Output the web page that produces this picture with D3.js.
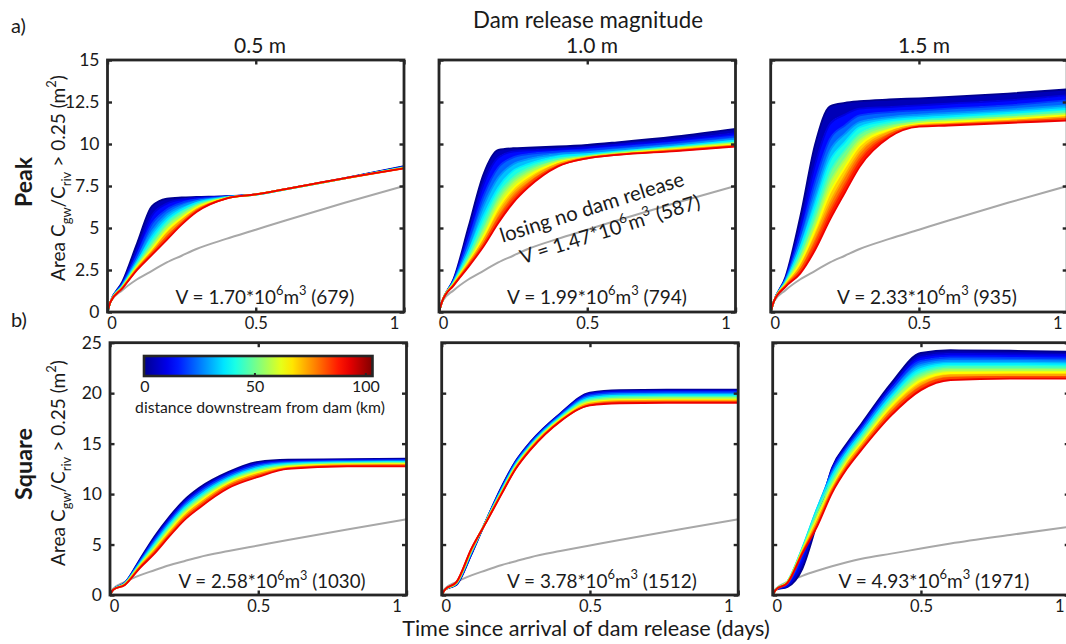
<!DOCTYPE html>
<html><head><meta charset="utf-8">
<script src="https://cdn.jsdelivr.net/npm/d3@7"></script>
<style>
body{margin:0;background:#fff}
svg{display:block}
text{font-family:Lato,'Open Sans',sans-serif;fill:#1a1a1a}
</style>
</head><body>
<svg id="chart" width="1066" height="644"></svg>
<script>
// ---------------- DATA ----------------
const times = [0, 0.01, 0.05, 0.1, 0.15, 0.2, 0.25, 0.3, 0.4, 0.5, 0.6, 0.8, 1.0];
const distances = [0, 10, 20, 30, 40, 50, 60, 70, 80, 90, 100]; // km downstream

const peak05 = [
  [0, 0.6, 1.8, 4.1, 6.3, 6.75, 6.82, 6.85, 6.9, 7.0, 7.32, 7.97, 8.68],
  [0, 0.6, 1.72, 3.7, 5.75, 6.45, 6.7, 6.8, 6.88, 7.0, 7.31, 7.96, 8.66],
  [0, 0.6, 1.66, 3.4, 5.25, 6.1, 6.5, 6.7, 6.86, 7.0, 7.3, 7.95, 8.64],
  [0, 0.6, 1.6, 3.15, 4.8, 5.8, 6.3, 6.6, 6.84, 6.99, 7.3, 7.95, 8.62],
  [0, 0.6, 1.56, 2.98, 4.45, 5.5, 6.1, 6.5, 6.82, 6.99, 7.3, 7.95, 8.6],
  [0, 0.6, 1.52, 2.86, 4.15, 5.28, 5.95, 6.4, 6.8, 6.99, 7.3, 7.95, 8.6],
  [0, 0.6, 1.49, 2.76, 3.92, 5.05, 5.75, 6.3, 6.78, 6.99, 7.3, 7.95, 8.58],
  [0, 0.6, 1.46, 2.68, 3.75, 4.85, 5.6, 6.2, 6.77, 7.0, 7.31, 7.96, 8.57],
  [0, 0.6, 1.44, 2.6, 3.6, 4.65, 5.45, 6.1, 6.76, 7.0, 7.31, 7.96, 8.56],
  [0, 0.6, 1.42, 2.55, 3.5, 4.45, 5.3, 6.02, 6.75, 7.0, 7.31, 7.96, 8.55],
  [0, 0.6, 1.4, 2.5, 3.4, 4.3, 5.2, 5.95, 6.75, 7.0, 7.32, 7.97, 8.55]
];
const peak10 = [
  [0, 0.6, 2.0, 5.1, 8.2, 9.65, 9.75, 9.78, 9.85, 9.95, 10.1, 10.45, 10.9],
  [0, 0.6, 1.95, 4.7, 7.6, 9.2, 9.55, 9.62, 9.7, 9.8, 9.95, 10.25, 10.65],
  [0, 0.6, 1.9, 4.3, 6.9, 8.6, 9.2, 9.4, 9.55, 9.65, 9.8, 10.1, 10.45],
  [0, 0.6, 1.85, 3.9, 6.3, 8.0, 8.8, 9.1, 9.4, 9.5, 9.65, 9.95, 10.3],
  [0, 0.6, 1.8, 3.6, 5.7, 7.4, 8.4, 8.8, 9.25, 9.4, 9.55, 9.85, 10.2],
  [0, 0.6, 1.75, 3.35, 5.2, 7.0, 8.0, 8.55, 9.1, 9.3, 9.5, 9.8, 10.1],
  [0, 0.6, 1.7, 3.15, 4.8, 6.6, 7.7, 8.3, 9.0, 9.25, 9.45, 9.75, 10.05],
  [0, 0.6, 1.7, 3.0, 4.5, 6.2, 7.35, 8.05, 8.9, 9.2, 9.4, 9.7, 9.98],
  [0, 0.6, 1.65, 2.9, 4.25, 5.85, 7.05, 7.8, 8.8, 9.2, 9.38, 9.65, 9.92],
  [0, 0.6, 1.6, 2.8, 4.05, 5.55, 6.75, 7.6, 8.7, 9.15, 9.36, 9.6, 9.88],
  [0, 0.6, 1.6, 2.7, 3.9, 5.3, 6.5, 7.4, 8.65, 9.15, 9.35, 9.58, 9.85]
];
const peak15 = [
  [0, 0.6, 2.1, 5.7, 10.0, 12.25, 12.45, 12.55, 12.65, 12.72, 12.8, 13.0, 13.25],
  [0, 0.6, 2.0, 5.1, 8.8, 11.2, 11.75, 12.1, 12.2, 12.3, 12.4, 12.6, 12.9],
  [0, 0.6, 1.95, 4.6, 7.8, 10.3, 11.1, 11.7, 11.9, 12.0, 12.1, 12.3, 12.6],
  [0, 0.6, 1.9, 4.2, 7.0, 9.6, 10.6, 11.3, 11.6, 11.75, 11.85, 12.05, 12.3],
  [0, 0.6, 1.8, 3.85, 6.4, 9.0, 10.1, 11.0, 11.4, 11.55, 11.65, 11.85, 12.1],
  [0, 0.6, 1.75, 3.5, 5.8, 8.3, 9.6, 10.6, 11.2, 11.4, 11.5, 11.7, 11.95],
  [0, 0.6, 1.7, 3.2, 5.3, 7.7, 9.1, 10.25, 11.0, 11.3, 11.4, 11.58, 11.8],
  [0, 0.6, 1.65, 2.95, 4.9, 7.1, 8.6, 9.9, 10.85, 11.2, 11.3, 11.48, 11.7],
  [0, 0.6, 1.6, 2.7, 4.5, 6.5, 8.1, 9.5, 10.7, 11.12, 11.2, 11.38, 11.6],
  [0, 0.6, 1.55, 2.5, 4.1, 6.0, 7.6, 9.1, 10.55, 11.07, 11.15, 11.32, 11.5],
  [0, 0.6, 1.5, 2.3, 3.7, 5.5, 7.1, 8.65, 10.4, 11.03, 11.1, 11.25, 11.4]
];
const square05 = [
  [0, 0.5, 1.2, 3.5, 5.8, 7.75, 9.4, 10.6, 12.2, 13.2, 13.4, 13.45, 13.5],
  [0, 0.5, 1.2, 3.4, 5.6, 7.55, 9.2, 10.4, 12.05, 13.05, 13.3, 13.38, 13.42],
  [0, 0.5, 1.2, 3.3, 5.45, 7.35, 9.0, 10.2, 11.9, 12.9, 13.2, 13.3, 13.35],
  [0, 0.5, 1.15, 3.2, 5.25, 7.15, 8.8, 10.0, 11.7, 12.75, 13.1, 13.22, 13.27],
  [0, 0.5, 1.15, 3.1, 5.05, 6.95, 8.6, 9.8, 11.55, 12.6, 13.0, 13.15, 13.2],
  [0, 0.5, 1.1, 3.0, 4.9, 6.75, 8.4, 9.6, 11.4, 12.45, 12.9, 13.08, 13.12],
  [0, 0.5, 1.1, 2.95, 4.7, 6.55, 8.2, 9.4, 11.25, 12.3, 12.8, 13.0, 13.05],
  [0, 0.5, 1.05, 2.85, 4.55, 6.35, 8.0, 9.2, 11.1, 12.15, 12.7, 12.93, 12.97],
  [0, 0.5, 1.05, 2.8, 4.4, 6.15, 7.8, 9.0, 10.95, 12.0, 12.6, 12.86, 12.9],
  [0, 0.5, 1.0, 2.7, 4.25, 5.95, 7.6, 8.8, 10.8, 11.85, 12.55, 12.8, 12.82],
  [0, 0.5, 1.0, 2.65, 4.1, 5.8, 7.4, 8.6, 10.6, 11.7, 12.5, 12.75, 12.75]
];
const square10 = [
  [0, 0.5, 1.0, 4.0, 7.4, 10.6, 13.3, 15.2, 18.0, 20.05, 20.3, 20.35, 20.35],
  [0, 0.5, 1.05, 4.05, 7.4, 10.55, 13.25, 15.15, 17.95, 19.95, 20.2, 20.25, 20.25],
  [0, 0.5, 1.1, 4.15, 7.4, 10.45, 13.15, 15.05, 17.85, 19.8, 20.05, 20.1, 20.1],
  [0, 0.5, 1.12, 4.2, 7.38, 10.35, 13.05, 14.95, 17.75, 19.65, 19.9, 19.95, 19.95],
  [0, 0.5, 1.15, 4.3, 7.35, 10.3, 12.95, 14.85, 17.65, 19.5, 19.75, 19.8, 19.8],
  [0, 0.5, 1.18, 4.35, 7.33, 10.2, 12.85, 14.75, 17.55, 19.35, 19.6, 19.65, 19.65],
  [0, 0.5, 1.2, 4.4, 7.3, 10.1, 12.75, 14.7, 17.45, 19.2, 19.45, 19.5, 19.5],
  [0, 0.5, 1.22, 4.45, 7.28, 10.05, 12.7, 14.6, 17.4, 19.05, 19.3, 19.35, 19.35],
  [0, 0.5, 1.25, 4.5, 7.25, 10.0, 12.6, 14.55, 17.3, 18.95, 19.2, 19.25, 19.25],
  [0, 0.5, 1.28, 4.55, 7.22, 9.95, 12.55, 14.45, 17.25, 18.85, 19.1, 19.12, 19.12],
  [0, 0.5, 1.3, 4.6, 7.2, 9.9, 12.5, 14.4, 17.2, 18.8, 19.0, 19.05, 19.05]
];
const square15 = [
  [0, 0.5, 0.8, 2.6, 7.2, 12.6, 15.0, 17.0, 21.0, 24.0, 24.25, 24.2, 24.1],
  [0, 0.5, 0.9, 3.2, 7.6, 12.5, 14.8, 16.8, 20.7, 23.6, 23.9, 23.85, 23.8],
  [0, 0.5, 1.1, 4.0, 8.2, 12.3, 14.6, 16.55, 20.4, 23.2, 23.55, 23.5, 23.45],
  [0, 0.5, 1.3, 4.6, 8.6, 12.1, 14.4, 16.3, 20.1, 22.8, 23.2, 23.2, 23.15],
  [0, 0.5, 1.35, 4.7, 8.6, 11.8, 14.1, 16.0, 19.7, 22.4, 22.9, 22.9, 22.85],
  [0, 0.5, 1.35, 4.6, 8.3, 11.4, 13.8, 15.7, 19.4, 22.0, 22.6, 22.6, 22.55],
  [0, 0.5, 1.3, 4.5, 7.9, 11.0, 13.5, 15.4, 19.05, 21.6, 22.3, 22.3, 22.3],
  [0, 0.5, 1.3, 4.4, 7.6, 10.7, 13.2, 15.1, 18.75, 21.25, 22.0, 22.05, 22.05],
  [0, 0.5, 1.25, 4.3, 7.3, 10.5, 12.95, 14.85, 18.4, 20.9, 21.75, 21.8, 21.8],
  [0, 0.5, 1.2, 4.2, 7.0, 10.3, 12.7, 14.6, 18.1, 20.6, 21.5, 21.6, 21.6],
  [0, 0.5, 1.2, 4.1, 6.8, 10.1, 12.5, 14.4, 17.8, 20.3, 21.3, 21.45, 21.45]
];
// "losing, no dam release" reference curve
const grayLosing = [0, 0.6, 1.3, 1.95, 2.45, 2.95, 3.35, 3.75, 4.35, 4.9, 5.45, 6.5, 7.5];
const grayLosingSquare15 = [0, 0.6, 1.3, 1.9, 2.4, 2.85, 3.25, 3.6, 4.1, 4.6, 5.1, 5.95, 6.75];

const magnitudes = ["0.5 m", "1.0 m", "1.5 m"];
const rowNames = ["Peak", "Square"];
const volumes = [["1.70", "679"], ["1.99", "794"], ["2.33", "935"],
                 ["2.58", "1030"], ["3.78", "1512"], ["4.93", "1971"]];
const losingVolume = ["1.47", "587"];
const peakYTicks = [0, 2.5, 5, 7.5, 10, 12.5, 15];
const squareYTicks = [0, 5, 10, 15, 20, 25];
const xTicks = [0, 0.5, 1];
const colorbarTicks = [0, 50, 100];

// ---------------- LAYOUT / STYLE ----------------
const svg = d3.select("#chart");
const INK = "#262626";
const W = 296.5;
const rowsLayout = [
  {top: 60, bottom: 312, lefts: [107.5, 439, 770.7], yMax: 15, ticks: peakYTicks,
   vLabel: [{cx: 265, w: 179}, {cx: 597, w: 180}, {cx: 927, w: 180}], vBase: 304},
  {top: 342.7, bottom: 595, lefts: [110, 441.7, 772.7], yMax: 25, ticks: squareYTicks,
   vLabel: [{cx: 272, w: 187}, {cx: 602, w: 190}, {cx: 934, w: 191}], vBase: 588}
];
const panelData = [
  [peak05, peak10, peak15],
  [square05, square10, square15]
];
const panelGray = [
  [grayLosing, grayLosing, grayLosing],
  [grayLosing, grayLosing, grayLosingSquare15]
];

// MATLAB "jet" colormap
const jet = d3.scaleLinear()
  .domain([0, 0.125, 0.375, 0.625, 0.875, 1])
  .range(["#00008F", "#0000FF", "#00FFFF", "#FFFF00", "#FF0000", "#800000"])
  .interpolate(d3.interpolateRgb);
const cbMax = 103;
const lineColor = d => jet(d / 112);

// rich text (sub / superscripts)
function rich(sel, parts, size) {
  const t = sel.append("text").attr("font-size", size);
  let shift = 0;
  parts.forEach(p => {
    const [str, kind] = Array.isArray(p) ? p : [p, null];
    const target = kind === "sub" ? size * 0.3 : kind === "sup" ? -size * 0.45 : 0;
    t.append("tspan").attr("dy", (target - shift).toFixed(2))
      .attr("font-size", kind ? size * 0.68 : size).text(str);
    shift = target;
  });
  return t;
}
function fitRich(sel, parts, width, opts = {}) {
  const probe = rich(sel, parts, 20);
  if (opts.weight) probe.attr("font-weight", opts.weight);
  const len = probe.node().getComputedTextLength();
  probe.remove();
  const t = rich(sel, parts, 20 * width / len);
  if (opts.weight) t.attr("font-weight", opts.weight);
  t.attr("text-anchor", opts.anchor || "middle");
  return t;
}

// ---------------- PANELS ----------------
rowsLayout.forEach((row, r) => {
  row.lefts.forEach((left, c) => {
    const curves = panelData[r][c];
    const x = d3.scaleLinear().domain([0, 1]).range([left, left + W]);
    const y = d3.scaleLinear().domain([0, row.yMax]).range([row.bottom, row.top]);
    const g = svg.append("g");
    const clipId = `clip-${r}-${c}`;
    g.append("clipPath").attr("id", clipId).append("rect")
      .attr("x", left).attr("y", row.top).attr("width", W).attr("height", row.bottom - row.top);
    const plot = g.append("g").attr("clip-path", `url(#${clipId})`);

    const line = d3.line().x((d, i) => x(times[i])).y(d => y(d)).curve(d3.curveMonotoneX);

    // gray reference curve
    plot.append("path").attr("d", line(panelGray[r][c]))
      .attr("fill", "none").attr("stroke", "#a8a8a8").attr("stroke-width", 2);

    // fill between neighbouring distance curves (dense family look)
    for (let k = 0; k < curves.length - 1; k++) {
      const a = curves[k], b = curves[k + 1];
      const area = d3.area().x((d, i) => x(times[i]))
        .y0((d, i) => y(a[i])).y1((d, i) => y(b[i])).curve(d3.curveMonotoneX);
      plot.append("path").attr("d", area(times))
        .attr("fill", lineColor((distances[k] + distances[k + 1]) / 2)).attr("stroke", "none");
    }
    curves.forEach((cv, k) => {
      plot.append("path").attr("d", line(cv)).attr("fill", "none")
        .attr("stroke", lineColor(distances[k])).attr("stroke-width", 1.8);
    });

    // frame
    g.append("rect").attr("x", left).attr("y", row.top).attr("width", W)
      .attr("height", row.bottom - row.top).attr("fill", "none")
      .attr("stroke", INK).attr("stroke-width", 2.8);

    const styleAxis = (ax, fs) => {
      ax.attr("font-family", null).attr("font-size", fs).attr("color", INK);
      ax.select(".domain").remove();
      ax.selectAll(".tick line").attr("stroke-width", 2.4);
      ax.selectAll(".tick text").attr("fill", "#1a1a1a");
    };
    // y axes
    const yl = g.append("g").attr("transform", `translate(${left},0)`)
      .call(d3.axisLeft(y).tickValues(row.ticks).tickSizeInner(-4.5).tickSizeOuter(0)
        .tickPadding(8).tickFormat(c === 0 ? d3.format("") : () => ""));
    styleAxis(yl, 17.5);
    const yr = g.append("g").attr("transform", `translate(${left + W},0)`)
      .call(d3.axisRight(y).tickValues(row.ticks).tickSizeInner(-4.5).tickSizeOuter(0).tickFormat(() => ""));
    styleAxis(yr, 17.5);
    // x axes
    const xb = g.append("g").attr("transform", `translate(0,${row.bottom})`)
      .call(d3.axisBottom(x).tickValues(xTicks).tickSizeInner(-4.5).tickSizeOuter(0)
        .tickPadding(5).tickFormat(d3.format("")));
    styleAxis(xb, 16.5);
    const labelShift = {0: [4, 0], 0.5: [0, 0], 1: [-10, 0]};
    xb.selectAll(".tick text").attr("transform", d => `translate(${labelShift[d][0]},${labelShift[d][1]})`);
    const xt = g.append("g").attr("transform", `translate(0,${row.top})`)
      .call(d3.axisTop(x).tickValues(xTicks).tickSizeInner(-4.5).tickSizeOuter(0).tickFormat(() => ""));
    styleAxis(xt, 16.5);

    // volume label
    const v = volumes[r * 3 + c];
    const vl = row.vLabel[c];
    fitRich(g, [`V = ${v[0]}*10`, ["6", "sup"], "m", ["3", "sup"], ` (${v[1]})`], vl.w)
      .attr("x", vl.cx).attr("y", row.vBase);

    // losing annotation on the 1.0 m peak panel
    if (r === 0 && c === 1) {
      const a1 = g.append("g").attr("transform", "translate(594,214) rotate(-17.5)");
      fitRich(a1, ["losing no dam release"], 192).attr("dy", "0.35em");
      const a2 = g.append("g").attr("transform", "translate(612,236) rotate(-17.5)");
      fitRich(a2, [`V = ${losingVolume[0]}*10`, ["6", "sup"], "m", ["3", "sup"], ` (${losingVolume[1]})`], 188)
        .attr("dy", "0.35em");
    }
  });
});

// ---------------- TITLES & LABELS ----------------
fitRich(svg, ["Dam release magnitude"], 230).attr("x", 588).attr("y", 28);
const colCenters = [260, 592, 924];
magnitudes.forEach((m, i) => fitRich(svg, [m], 52).attr("x", colCenters[i]).attr("y", 53));
fitRich(svg, ["Time since arrival of dam release (days)"], 368).attr("x", 586).attr("y", 636);

svg.append("text").attr("x", 11).attr("y", 33).attr("font-size", 20).text("a)");
svg.append("text").attr("x", 11).attr("y", 327).attr("font-size", 20).text("b)");

const yLabelParts = ["Area C", ["gw", "sub"], "/C", ["riv", "sub"], " > 0.25 (m", ["2", "sup"], ")"];
const rowLabelCenters = [178, 463];
const rowNameCenters = [182, 464];
const rowNameWidths = [50, 72];
rowNames.forEach((nm, r) => {
  const gl = svg.append("g").attr("transform", `translate(65,${rowLabelCenters[r]}) rotate(-90)`);
  fitRich(gl, yLabelParts, 206);
  const gn = svg.append("g").attr("transform", `translate(32,${rowNameCenters[r]}) rotate(-90)`);
  fitRich(gn, [nm], rowNameWidths[r], {weight: "bold"});
});

// ---------------- COLORBAR ----------------
const cb = {x0: 144, x1: 372.5, y0: 356, y1: 376};
const cbScale = d3.scaleLinear().domain([0, cbMax]).range([cb.x0, cb.x1]);
const grad = svg.append("defs").append("linearGradient").attr("id", "jetgrad")
  .attr("x1", "0%").attr("x2", "100%").attr("y1", "0%").attr("y2", "0%");
d3.range(0, 1.0001, 0.05).forEach(f => grad.append("stop")
  .attr("offset", `${f * 100}%`).attr("stop-color", jet(f)));
svg.append("rect").attr("x", cb.x0).attr("y", cb.y0).attr("width", cb.x1 - cb.x0)
  .attr("height", cb.y1 - cb.y0).attr("fill", "url(#jetgrad)")
  .attr("stroke", INK).attr("stroke-width", 2.6);
colorbarTicks.forEach(t => {
  svg.append("line").attr("x1", cbScale(t)).attr("x2", cbScale(t))
    .attr("y1", cb.y1).attr("y2", cb.y1 - 3).attr("stroke", INK).attr("stroke-width", 2);
  svg.append("text").attr("x", cbScale(t) + (t === 0 ? 1 : 0)).attr("y", 392)
    .attr("text-anchor", "middle").attr("font-size", 16).text(t);
});
fitRich(svg, ["distance downstream from dam (km)"], 250).attr("x", 260).attr("y", 413);
</script>
</body></html>
